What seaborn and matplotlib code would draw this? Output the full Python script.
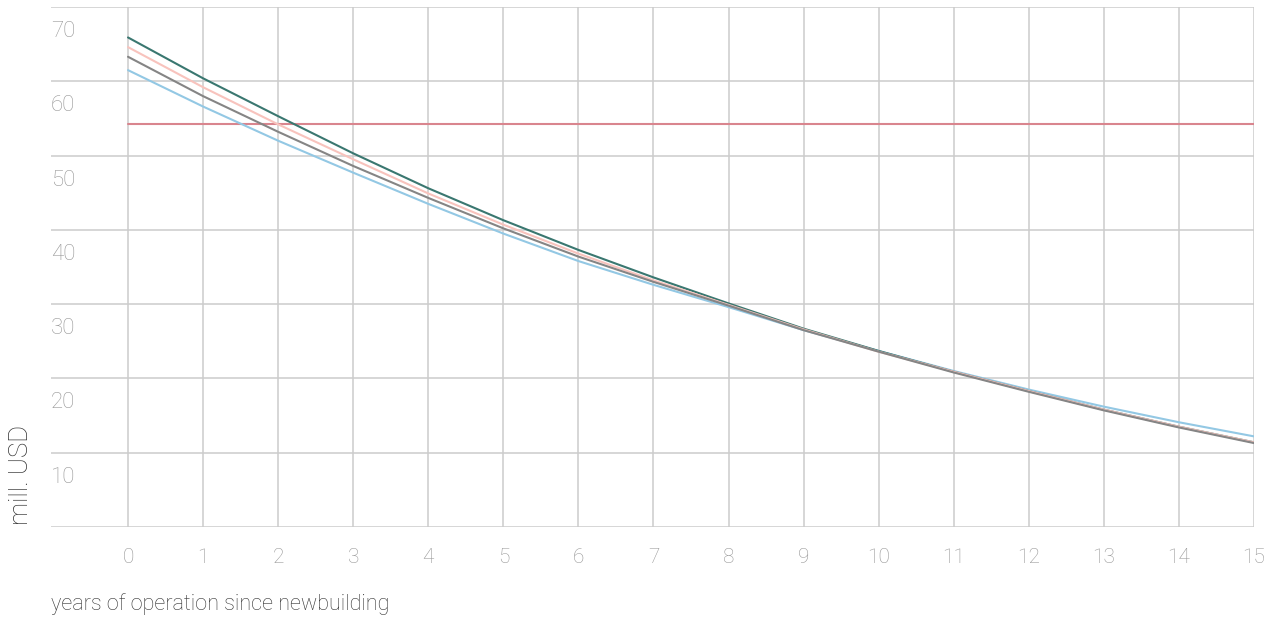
import matplotlib
matplotlib.use("Agg")
import matplotlib.pyplot as plt
import matplotlib.transforms as mtransforms
import seaborn as sns
import pandas as pd

years = list(range(16))
series_green = [65.9, 60.4, 55.3, 50.3, 45.6, 41.3, 37.3, 33.6, 30.1, 26.7, 23.7, 20.9, 18.3, 15.8, 13.5, 11.4]
series_pink = [64.6, 59.2, 54.2, 49.5, 44.9, 40.7, 36.8, 33.2, 29.9, 26.6, 23.6, 20.9, 18.3, 15.8, 13.5, 11.4]
series_gray = [63.3, 58.0, 53.2, 48.6, 44.3, 40.2, 36.4, 33.0, 29.8, 26.5, 23.6, 20.8, 18.2, 15.7, 13.4, 11.3]
series_blue = [61.5, 56.6, 52.0, 47.7, 43.5, 39.5, 35.8, 32.6, 29.6, 26.5, 23.7, 21.0, 18.5, 16.2, 14.1, 12.2]
reference_level = [54.2] * 16
y_ticks = [0, 10, 20, 30, 40, 50, 60, 70]
y_tick_labels = ["", "10", "20", "30", "40", "50", "60", "70"]

sns.set_theme(style="white")
plt.rcParams["font.family"] = ["Roboto", "DejaVu Sans"]

series = {
    "reference": reference_level,
    "blue": series_blue,
    "green": series_green,
    "pink": series_pink,
    "gray": series_gray,
}
palette = {
    "reference": "#d9858e",
    "blue": "#93c8e4",
    "green": "#3a7770",
    "pink": "#f8c3bd",
    "gray": "#858585",
}
df = pd.concat(
    [pd.DataFrame({"year": years, "value": v, "series": k}) for k, v in series.items()],
    ignore_index=True,
)

fig = plt.figure(figsize=(12.74, 6.21), dpi=100)
ax = fig.add_axes([51 / 1274, 94 / 621, (1254 - 51) / 1274, (527 - 7) / 621])

sns.lineplot(data=df, x="year", y="value", hue="series", palette=palette,
             hue_order=list(series.keys()), linewidth=1.5, legend=False, ax=ax)

ax.set_xlim(-1.026, 15)
ax.set_ylim(0, 70)
ax.set_xticks(years)
ax.set_yticks(y_ticks)
ax.set_yticklabels(y_tick_labels)
ax.grid(True, color="#cccccc", linewidth=1.1)
for s in ax.spines.values():
    s.set_visible(False)

ax.tick_params(axis="x", length=0, pad=15, labelsize=15, labelcolor="#969696")
ax.tick_params(axis="y", length=0, pad=0, labelsize=16, labelcolor="#969696")
for lab in ax.get_xticklabels():
    lab.set_fontweight("light")
offset = mtransforms.ScaledTranslation(0, -14 / 100, fig.dpi_scale_trans)
for lab in ax.get_yticklabels():
    lab.set_horizontalalignment("left")
    lab.set_verticalalignment("top")
    lab.set_fontweight("light")
    lab.set_transform(lab.get_transform() + offset)

ax.set_xlabel("years of operation since newbuilding", fontsize=15.6, color="#333333",
              fontweight="light", loc="left")
ax.xaxis.set_label_coords(0, -0.148)
ax.xaxis.label.set_verticalalignment("center")
ax.set_ylabel("mill. USD", fontsize=18.5, color="#333333", fontweight="light", loc="bottom")
ax.yaxis.set_label_coords(-0.025, 0.004)
ax.yaxis.label.set_verticalalignment("center")

fig.savefig("out.png", dpi=100, facecolor="white")
